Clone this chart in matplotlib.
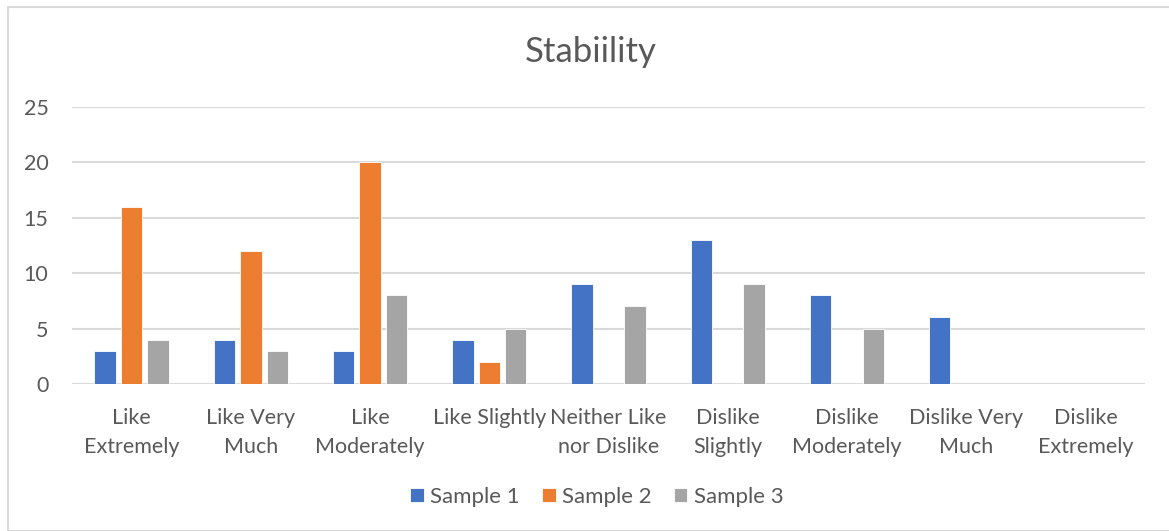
import numpy as np
import matplotlib.pyplot as plt
from matplotlib.patches import Rectangle

categories = ["Like\nExtremely", "Like Very\nMuch", "Like\nModerately", "Like Slightly",
              "Neither Like\nnor Dislike", "Dislike\nSlightly", "Dislike\nModerately",
              "Dislike Very\nMuch", "Dislike\nExtremely"]
sample1 = [3, 4, 3, 4, 9, 13, 8, 6, 0]
sample2 = [16, 12, 20, 2, 0, 0, 0, 0, 0]
sample3 = [4, 3, 8, 5, 7, 9, 5, 0, 0]
series_names = ["Sample 1", "Sample 2", "Sample 3"]
colors = ["#4472C4", "#ED7D31", "#A5A5A5"]
yticks = [0, 5, 10, 15, 20, 25]

plt.rcParams['font.family'] = ['Lato', 'DejaVu Sans']
txt = "#595959"

fig = plt.figure(figsize=(11.69, 5.31), dpi=100)
ax = fig.add_axes([72/1169, 1-384/531, (1145-72)/1169, (384-106.7)/531])

# chart border
fig.patches.append(Rectangle((8/1169, 0), 1.2, 1-7/531, transform=fig.transFigure,
                             fill=False, edgecolor="#D9D9D9", linewidth=1.5, zorder=0))

x = np.arange(len(categories))
w = 0.18
step = 0.222
for i, (vals, name, c) in enumerate(zip([sample1, sample2, sample3], series_names, colors)):
    ax.bar(x + (i - 1) * step, vals, width=w, color=c, edgecolor="white",
           linewidth=0.6, label=name, zorder=3)

ax.set_xlim(-0.5, len(categories) - 0.5)
ax.set_ylim(0, 25)
ax.set_yticks(yticks)
ax.yaxis.grid(True, color="#D9D9D9", linewidth=1.5)
ax.set_axisbelow(True)
for s in ax.spines.values():
    s.set_visible(False)
ax.tick_params(axis="both", length=0, labelsize=15.5, labelcolor=txt)
ax.tick_params(axis="y", pad=17)
ax.tick_params(axis="x", pad=17)
ax.set_xticks(x)
ax.set_xticklabels(categories, linespacing=1.6)

fig.text(591/1169, 1-52/531, "Stabiility", ha="center", va="center",
         fontsize=25, color=txt)

leg = fig.legend(loc="center", bbox_to_anchor=(597/1169, 1-497/531), ncol=3,
                 frameon=False, fontsize=16, handlelength=0.6, handleheight=0.6,
                 handletextpad=0.3, columnspacing=1.0)
for t in leg.get_texts():
    t.set_color(txt)

fig.savefig("out.png", dpi=100, facecolor="white")
